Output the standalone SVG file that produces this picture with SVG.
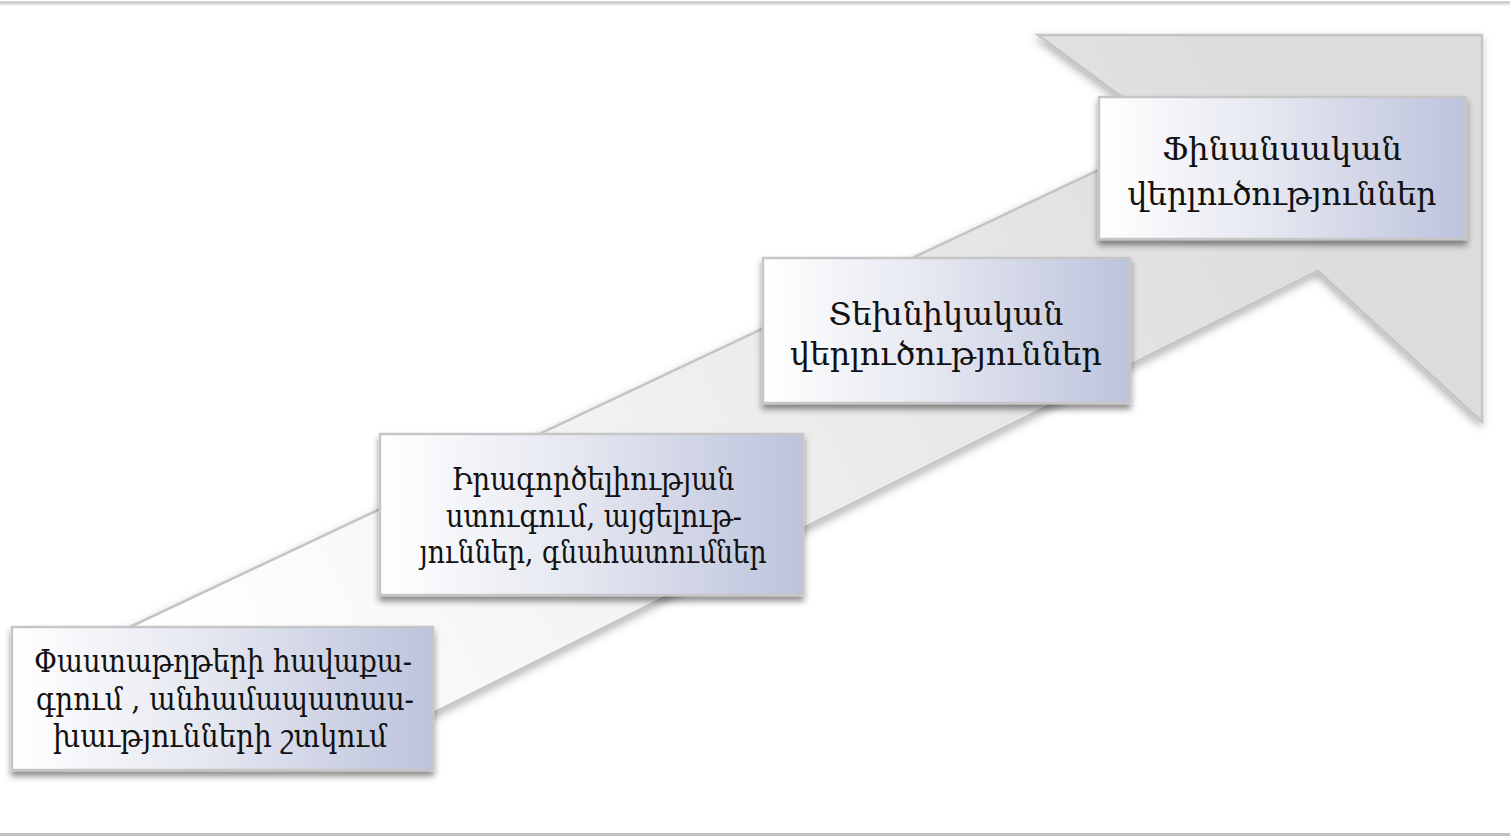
<svg xmlns="http://www.w3.org/2000/svg" width="1510" height="836" viewBox="0 0 1510 836">
<style>
.box{stroke:#c6c6c6;stroke-width:2.5;fill:url(#boxg);filter:url(#sh)}
.t{font-family:"DejaVu Serif","Liberation Serif",serif;font-size:31px;fill:#111;text-anchor:middle}
</style>
<defs>
<linearGradient id="boxg" x1="0" y1="0" x2="1" y2="0">
<stop offset="0" stop-color="#ffffff"/>
<stop offset="0.45" stop-color="#e6e8f1"/>
<stop offset="1" stop-color="#bcc3dc"/>
</linearGradient>
<linearGradient id="arrg" gradientUnits="userSpaceOnUse" x1="200" y1="700" x2="1300" y2="150">
<stop offset="0" stop-color="#ffffff"/>
<stop offset="0.55" stop-color="#ececec"/>
<stop offset="1" stop-color="#dcdcdc"/>
</linearGradient>
<filter id="sh" x="-10%" y="-10%" width="120%" height="130%">
<feDropShadow dx="0" dy="5" stdDeviation="3" flood-color="#000" flood-opacity="0.45"/>
</filter>
<filter id="ash" x="-10%" y="-10%" width="120%" height="130%">
<feDropShadow dx="-1" dy="4" stdDeviation="4" flood-color="#000" flood-opacity="0.3"/>
</filter>
</defs>
<rect width="1510" height="836" fill="#ffffff"/>
<line x1="0" y1="2.5" x2="1510" y2="2.5" stroke="#c0c0c0" stroke-width="2"/>
<line x1="0" y1="4.5" x2="1510" y2="4.5" stroke="#e2e2e2" stroke-width="1.5"/>
<line x1="0" y1="834.5" x2="1510" y2="834.5" stroke="#c2c2c2" stroke-width="3"/>
<g id="arrow">
<polygon points="60,660 1173,135 1038,35 1482,35 1482,422 1318,271 400,729.5" fill="url(#arrg)" stroke="#c4c4c4" stroke-width="2.5" stroke-linejoin="miter" filter="url(#ash)"/>
</g>
<g id="connectors"></g>
<g id="node1">
<rect class="box" x="12" y="627" width="421" height="143"/>
<text class="t" x="223" y="672" textLength="378" lengthAdjust="spacingAndGlyphs">Փաստաթղթերի հավաքա-</text>
<text class="t" x="225" y="710" textLength="378" lengthAdjust="spacingAndGlyphs">գրում , անհամապատաս-</text>
<text class="t" x="220" y="747" textLength="334" lengthAdjust="spacingAndGlyphs">խաւթյունների շտկում</text>
</g>
<g id="node2">
<rect class="box" x="380" y="434" width="423" height="161"/>
<text class="t" x="593" y="490" textLength="283" lengthAdjust="spacingAndGlyphs">Իրագործելիության</text>
<text class="t" x="594" y="527" textLength="296" lengthAdjust="spacingAndGlyphs">ստուգում, այցելութ-</text>
<text class="t" x="593" y="563" textLength="347" lengthAdjust="spacingAndGlyphs">յուններ, գնահատումներ</text>
</g>
<g id="node3">
<rect class="box" x="763" y="258" width="367" height="145"/>
<text class="t" x="946" y="325" textLength="235" lengthAdjust="spacingAndGlyphs">Տեխնիկական</text>
<text class="t" x="946" y="365" textLength="312" lengthAdjust="spacingAndGlyphs">վերլուծություններ</text>
</g>
<g id="node4">
<rect class="box" x="1099" y="97" width="367" height="142"/>
<text class="t" x="1282" y="160" textLength="240" lengthAdjust="spacingAndGlyphs">Ֆինանսական</text>
<text class="t" x="1282" y="205" textLength="309" lengthAdjust="spacingAndGlyphs">վերլուծություններ</text>
</g>
</svg>
